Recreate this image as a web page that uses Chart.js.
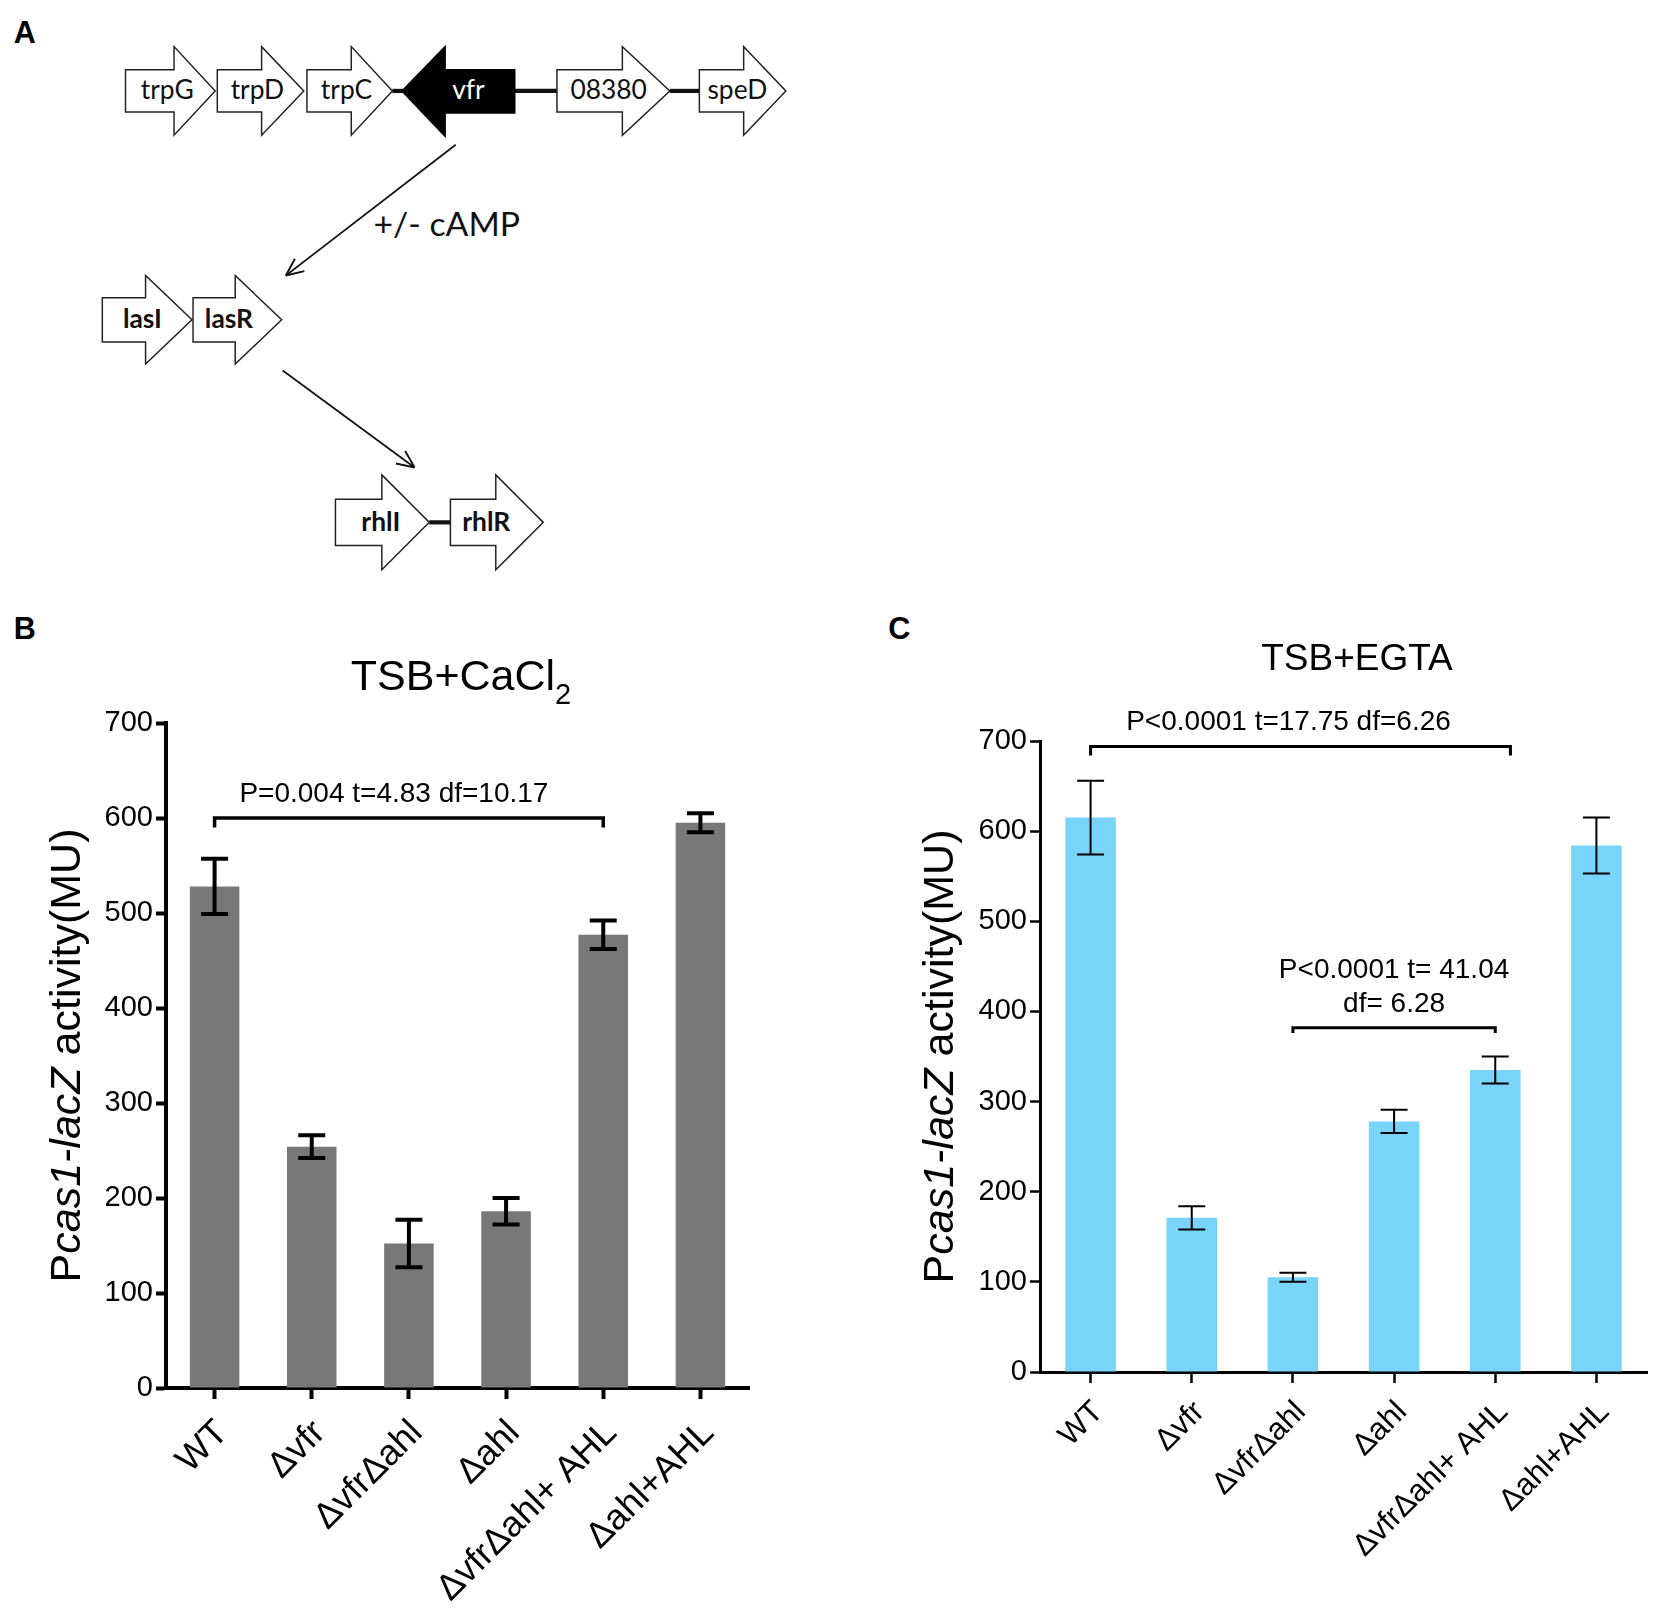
<!DOCTYPE html>
<html>
<head>
<meta charset="utf-8">
<script src="https://cdn.jsdelivr.net/npm/chart.js@4.4.0/dist/chart.umd.min.js"></script>
<style>
html,body{margin:0;padding:0;background:#fff;}
#page{position:relative;width:1654px;height:1608px;overflow:hidden;}
#diagram{position:absolute;left:0;top:0;}
.box{position:absolute;}
#boxB{left:0;top:560px;width:820px;height:1048px;}
#boxC{left:840px;top:560px;width:814px;height:1048px;}
</style>
</head>
<body>
<div id="page">
  <svg id="diagram" width="1654" height="1608" viewBox="0 0 1568 1524"></svg>
  <div class="box" id="boxB"><canvas id="chartB"></canvas></div>
  <div class="box" id="boxC"><canvas id="chartC"></canvas></div>
</div>
<script>
// ---------- data ----------
const strains = ['WT', 'Δvfr', 'ΔvfrΔahl', 'Δahl', 'ΔvfrΔahl+ AHL', 'Δahl+AHL'];
const yTicks = [0, 100, 200, 300, 400, 500, 600, 700];

// B: TSB+CaCl2
const caclMean = [528, 254, 152, 186, 477, 595];
const caclErr  = [29, 12, 25, 14, 15, 10];
// C: TSB+EGTA
const egtaMean = [615, 171, 105, 278, 335, 584];
const egtaErr  = [41, 13, 5, 13, 15, 31];

// significance brackets: [from index, to index, bracket value, drop value]
const caclBrackets = [[0, 4, 600, 590]];
const caclBracketText = [['P=0.004 t=4.83 df=10.17']];
const egtaBrackets = [[0, 4.15, 694, 684], [2, 4, 382, 376]];
const egtaBracketText = [['P<0.0001 t=17.75 df=6.26'], ['P<0.0001 t= 41.04', 'df= 6.28']];

const FONT = "'Liberation Sans', Arial, Helvetica, sans-serif";
const GENE_FONT = "Lato, 'Open Sans', sans-serif";

// ---------- panel A (gene diagram) ----------
const svg = document.getElementById('diagram');
const NS = 'http://www.w3.org/2000/svg';
function el(tag, attrs, text){
  const e = document.createElementNS(NS, tag);
  for (const k in attrs) e.setAttribute(k, attrs[k]);
  if (text) e.textContent = text;
  svg.appendChild(e);
  return e;
}
function gene(x0, xb, xt, yc, bh, hh, label, opt){
  opt = opt || {};
  const pts = [[x0,yc-bh],[xb,yc-bh],[xb,yc-hh],[xt,yc],[xb,yc+hh],[xb,yc+bh],[x0,yc+bh]];
  el('polygon', {points: pts.map(p=>p.join(',')).join(' '), fill: '#fff', stroke: '#222', 'stroke-width': 1.4});
  const cx = opt.tx != null ? opt.tx : (x0 + xt) / 2 - 3;
  el('text', {x: cx, y: yc + 8, 'text-anchor': 'middle', 'font-family': GENE_FONT,
    'font-size': opt.size||25, 'font-weight': opt.bold ? 700 : 400, fill: '#111'}, label);
}
function line(x1, y1, x2, y2, w){
  el('line', {x1, y1, x2, y2, stroke: '#111', 'stroke-width': w||1.6});
}
function arrow(x1, y1, x2, y2){
  line(x1, y1, x2, y2, 1.6);
  const a = Math.atan2(y2 - y1, x2 - x1), L = 18, s = 0.42;
  line(x2, y2, x2 - L*Math.cos(a - s), y2 - L*Math.sin(a - s), 1.8);
  line(x2, y2, x2 - L*Math.cos(a + s), y2 - L*Math.sin(a + s), 1.8);
}
el('text', {x: 13, y: 41, 'font-family': FONT, 'font-size': 29, 'font-weight': 700}, 'A');
el('text', {x: 13, y: 606, 'font-family': FONT, 'font-size': 29, 'font-weight': 700}, 'B');
el('text', {x: 842, y: 606, 'font-family': FONT, 'font-size': 29, 'font-weight': 700}, 'C');

line(372, 86, 382, 86, 4);
line(488, 86, 528, 86, 4);
line(635, 86, 663, 86, 4);
gene(119, 165, 204, 86, 20, 42, 'trpG');
gene(206, 248, 288, 86, 20, 42, 'trpD');
gene(291, 333, 372, 86, 20, 42, 'trpC');
// vfr points left
el('polygon', {points: '488,66 422,66 422,44 381,86 422,129 422,107 488,107', fill: '#000', stroke: '#000', 'stroke-width': 1.4});
el('text', {x: 444, y: 94, 'text-anchor': 'middle', 'font-family': GENE_FONT, 'font-size': 25, fill: '#fff'}, 'vfr');
gene(528, 590, 635, 86, 20, 42, '08380', {tx: 577});
gene(663, 705, 745, 86, 20, 42, 'speD', {tx: 699});

arrow(432, 137, 271, 261);
el('text', {x: 354, y: 224, 'font-family': GENE_FONT, 'font-size': 32, fill: '#111'}, '+/- cAMP');

gene(97, 138, 182, 303, 21, 42, 'lasI', {bold: true, size: 25, tx: 135});
gene(183, 223, 267, 303, 21, 42, 'lasR', {bold: true, size: 25, tx: 217});
arrow(268, 351, 393, 443);
line(407, 495, 427, 495, 4);
gene(318, 362, 407, 495, 22, 45, 'rhlI', {bold: true, size: 25, tx: 361});
gene(427, 470, 515, 495, 22, 45, 'rhlR', {bold: true, size: 25, tx: 461});

// ---------- chart plugins ----------
const errorBars = {
  id: 'errorBars',
  afterDatasetsDraw(chart, args, o){
    const {ctx, scales: {x, y}} = chart;
    const vals = chart.data.datasets[0].data;
    ctx.save();
    ctx.strokeStyle = '#000';
    ctx.lineWidth = o.width;
    o.errors.forEach((e, i) => {
      const px = x.getPixelForValue(i);
      const hi = y.getPixelForValue(vals[i] + e);
      const lo = y.getPixelForValue(vals[i] - e);
      ctx.beginPath();
      ctx.moveTo(px, hi); ctx.lineTo(px, lo);
      ctx.moveTo(px - o.cap, hi); ctx.lineTo(px + o.cap, hi);
      ctx.moveTo(px - o.cap, lo); ctx.lineTo(px + o.cap, lo);
      ctx.stroke();
    });
    ctx.restore();
  }
};

const brackets = {
  id: 'brackets',
  afterDatasetsDraw(chart, args, o){
    const {ctx, scales: {x, y}} = chart;
    ctx.save();
    ctx.strokeStyle = '#000';
    ctx.fillStyle = '#000';
    ctx.lineWidth = o.width;
    ctx.font = `${o.size}px ${FONT}`;
    ctx.textAlign = 'center';
    ctx.textBaseline = 'alphabetic';
    o.items.forEach((b, k) => {
      const x1 = x.getPixelForValue(b[0]), x2 = x.getPixelForValue(b[1]);
      const yb = y.getPixelForValue(b[2]), yd = y.getPixelForValue(b[3]);
      ctx.beginPath();
      ctx.moveTo(x1, yd); ctx.lineTo(x1, yb); ctx.lineTo(x2, yb); ctx.lineTo(x2, yd);
      ctx.stroke();
      const lines = o.texts[k];
      const cx = (x1 + x2) / 2 + (o.dx[k] || 0);
      lines.forEach((t, j) => {
        ctx.fillText(t, cx, yb - 16 - (lines.length - 1 - j) * 34);
      });
    });
    ctx.restore();
  }
};

const labels = {
  id: 'labels',
  afterDraw(chart, args, o){
    const {ctx, chartArea} = chart;
    ctx.save();
    ctx.fillStyle = '#000';
    ctx.textBaseline = 'alphabetic';
    ctx.textAlign = 'left';
    // chart title with optional subscript
    ctx.font = `${o.titleSize}px ${FONT}`;
    const wMain = ctx.measureText(o.title).width;
    ctx.font = `${o.subSize}px ${FONT}`;
    const wSub = o.sub ? ctx.measureText(o.sub).width : 0;
    let tx = o.titleX - (wMain + wSub) / 2;
    ctx.font = `${o.titleSize}px ${FONT}`;
    ctx.fillText(o.title, tx, o.titleY);
    if (o.sub){
      ctx.font = `${o.subSize}px ${FONT}`;
      ctx.fillText(o.sub, tx + wMain, o.titleY + o.subDrop);
    }
    // y axis title, mixed italic
    const parts = o.yParts;
    const widths = parts.map(p => {
      ctx.font = `${p[1] ? 'italic ' : ''}${o.ySize}px ${FONT}`;
      return ctx.measureText(p[0]).width;
    });
    const total = widths.reduce((a, b) => a + b, 0);
    ctx.translate(o.yX, (chartArea.top + chartArea.bottom) / 2);
    ctx.rotate(-Math.PI / 2);
    let cx = -total / 2;
    parts.forEach((p, i) => {
      ctx.font = `${p[1] ? 'italic ' : ''}${o.ySize}px ${FONT}`;
      ctx.fillText(p[0], cx, 0);
      cx += widths[i];
    });
    ctx.restore();
  }
};

const yParts = [['P', false], ['cas1-lacZ', true], [' activity(MU)', false]];

function makeChart(id, cfg){
  return new Chart(document.getElementById(id), {
    type: 'bar',
    data: {
      labels: strains,
      datasets: [{ data: cfg.values, backgroundColor: cfg.color, borderWidth: 0,
        barPercentage: cfg.barPct, categoryPercentage: 1 }]
    },
    plugins: [errorBars, brackets, labels],
    options: {
      responsive: true, maintainAspectRatio: false, animation: false,
      devicePixelRatio: 1,
      layout: { padding: { left: 0, top: cfg.top, right: cfg.right, bottom: 0 } },
      plugins: {
        legend: { display: false }, tooltip: { enabled: false },
        errorBars: { errors: cfg.errors, width: cfg.errWidth, cap: 13.5 },
        brackets: { items: cfg.brackets, texts: cfg.bracketText, dx: cfg.bracketDx, width: cfg.brWidth, size: 28 },
        labels: cfg.labels
      },
      scales: {
        x: {
          grid: { display: true, offset: false, drawOnChartArea: false, drawTicks: true,
            tickLength: 11, tickWidth: cfg.tickWidth, tickColor: '#000' },
          border: { display: true, color: '#000', width: cfg.axisWidth },
          ticks: { color: '#000', font: { family: FONT, size: cfg.xFont }, autoSkip: false,
            minRotation: 45, maxRotation: 45, padding: cfg.xPad, labelOffset: cfg.xOffset },
          afterFit: s => { s.height = cfg.xHeight; s.paddingLeft = 0; s.paddingRight = 0; }
        },
        y: {
          min: 0, max: 700,
          afterBuildTicks: s => { s.ticks = yTicks.map(v => ({ value: v })); },
          grid: { display: true, drawOnChartArea: false, drawTicks: true,
            tickLength: 10, tickWidth: cfg.tickWidth, tickColor: '#000' },
          border: { display: true, color: '#000', width: cfg.axisWidth },
          ticks: { color: '#000', font: { family: FONT, size: 29 }, padding: 3 },
          afterFit: s => { s.width = cfg.yWidth; }
        }
      }
    }
  });
}

makeChart('chartB', {
  values: caclMean, errors: caclErr, color: '#787878', barPct: 0.51,
  brackets: caclBrackets, bracketText: caclBracketText, bracketDx: [-15], brWidth: 3.5,
  errWidth: 4, tickWidth: 4, axisWidth: 4, xFont: 36, xPad: 13, xOffset: 8,
  top: 163, right: 71, xHeight: 220, yWidth: 166,
  labels: { title: 'TSB+CaCl', sub: '2', titleSize: 43, subSize: 29, subDrop: 14,
    titleX: 461, titleY: 130, yParts, ySize: 43, yX: 80 }
});

makeChart('chartC', {
  values: egtaMean, errors: egtaErr, color: '#79D4FA', barPct: 0.5,
  brackets: egtaBrackets, bracketText: egtaBracketText, bracketDx: [-12, 0], brWidth: 3,
  errWidth: 2, tickWidth: 2.5, axisWidth: 3, xFont: 31, xPad: 11, xOffset: 8,
  top: 181, right: 7, xHeight: 236, yWidth: 200,
  labels: { title: 'TSB+EGTA', sub: '', titleSize: 37, subSize: 26, subDrop: 0,
    titleX: 517, titleY: 110, yParts, ySize: 43, yX: 113 }
});
</script>
</body>
</html>
